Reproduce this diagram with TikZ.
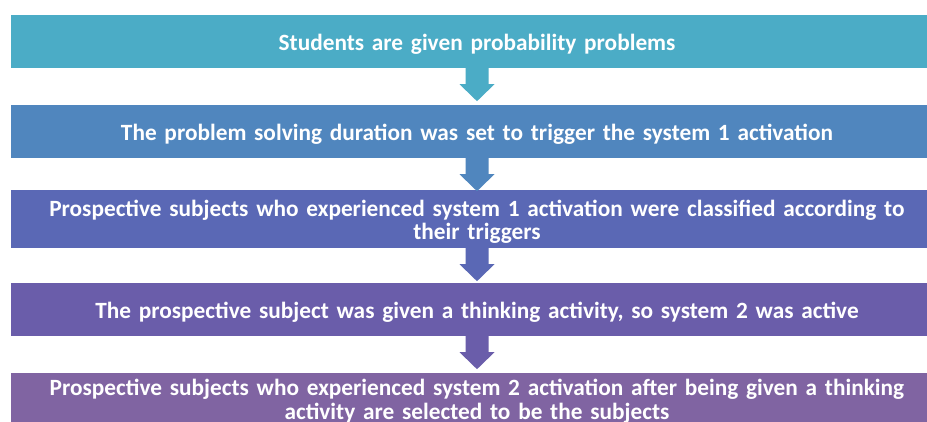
\documentclass[tikz,border=0pt]{standalone}
\usepackage{fontspec}
\setmainfont{Carlito}
\usetikzlibrary{calc}
\definecolor{cA}{HTML}{4BACC6}
\definecolor{cB}{HTML}{5086BE}
\definecolor{cC}{HTML}{5A68B5}
\definecolor{cD}{HTML}{6A5DAA}
\definecolor{cE}{HTML}{8064A2}
\newcommand{\topstrut}{\rule{0pt}{21.5pt}}
\tikzset{
  stagebox/.style={rectangle, inner sep=0pt, minimum width=932pt, text width=910pt, align=center,
     text=white, font=\bfseries\fontsize{23.3}{23.5}\selectfont},
}
\newcommand{\flowarrow}[2]{%
  \fill[#2] ($(#1.south)+(-11.5,0)$) -- ($(#1.south)+(-11.5,-16)$) -- ($(#1.south)+(-17.5,-16)$)
    -- ($(#1.south)+(0,-33)$) -- ($(#1.south)+(17.5,-16)$) -- ($(#1.south)+(11.5,-16)$)
    -- ($(#1.south)+(11.5,0)$) -- cycle;}
\begin{document}
\begin{tikzpicture}[x=1pt,y=1pt]
\useasboundingbox (0,0) rectangle (927,421);
\clip (0,0) rectangle (927,421);
\fill[white] (0,0) rectangle (927,421);
\node[stagebox, fill=cA, minimum height=53pt] (b1) at (477,379.5) {\topstrut Students are given probability problems};
\node[stagebox, fill=cB, minimum height=53pt] (b2) at (477,289.5) {\topstrut The problem solving duration was set to trigger the system 1 activation};
\node[stagebox, fill=cC, minimum height=58pt] (b3) at (477,202) {\topstrut Prospective subjects who experienced system 1 activation were classified according to\\ their triggers};
\node[stagebox, fill=cD, minimum height=53pt] (b4) at (477,111.5) {\topstrut The prospective subject was given a thinking activity, so system 2 was active};
\node[stagebox, fill=cE, minimum height=51pt] (b5) at (477,22.5) {\topstrut Prospective subjects who experienced system 2 activation after being given a thinking\\ activity are selected to be the subjects};
\flowarrow{b1}{cA}
\flowarrow{b2}{cB}
\flowarrow{b3}{cC}
\flowarrow{b4}{cD}
\end{tikzpicture}
\end{document}
